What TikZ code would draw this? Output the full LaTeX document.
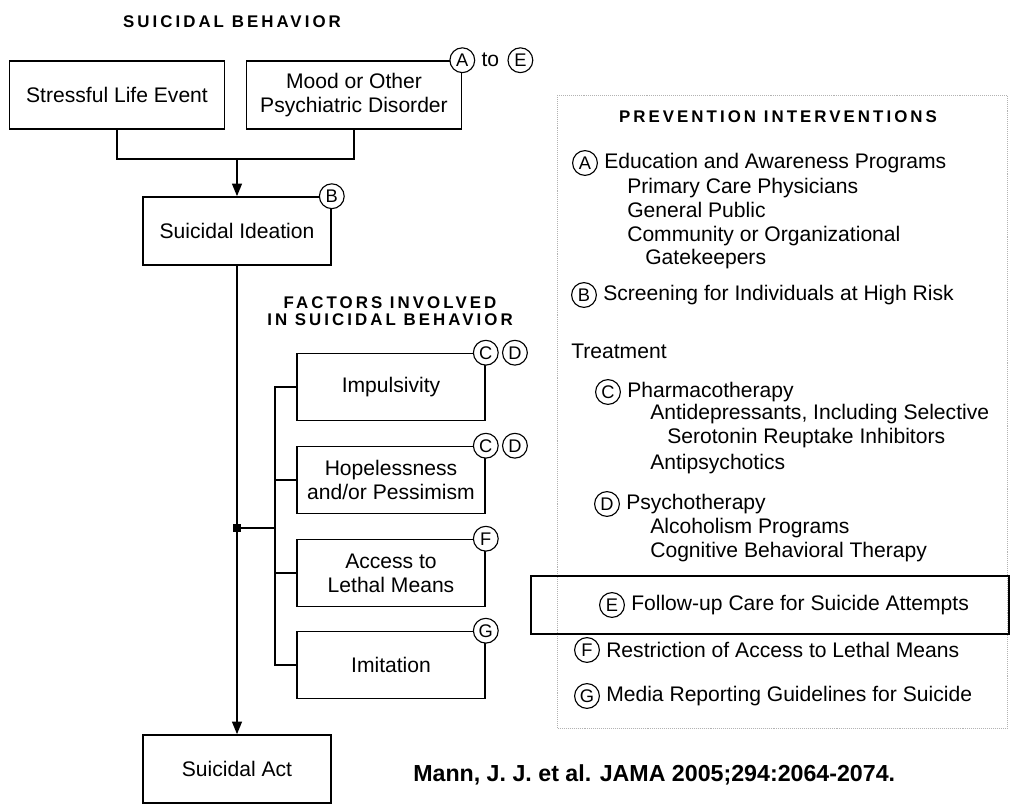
\documentclass[tikz,border=0pt]{standalone}
\usepackage{fontspec}
\setmainfont{Liberation Sans}
\newfontfamily\spacedfont[LetterSpace=18]{Liberation Sans}
\usetikzlibrary{positioning,arrows.meta}
\tikzset{
  box/.style={draw,line width=1.1pt,align=center,minimum height=1.7cm,
    font=\fontsize{15}{17}\selectfont},
  tag/.style={circle,draw,fill=white,line width=0.8pt,minimum size=0.62cm,
    inner sep=0pt,font=\fontsize{13}{13}\selectfont},
  item/.style={anchor=base west,inner sep=0pt,font=\fontsize{15}{17}\selectfont},
  head/.style={align=center,font=\fontsize{12}{12.5}\spacedfont\bfseries},
  link/.style={line width=1.3pt},
  arr/.style={link,-{Triangle[length=9pt,width=7pt]}}
}
\begin{document}
\begin{tikzpicture}[x=0.025cm,y=-0.025cm]
\useasboundingbox (0,0) rectangle (1010,810);
% left: causal chain
\node[head] (title) at (232,22) {SUICIDAL BEHAVIOR};
\node[box,minimum width=5.375cm] (life) at (117,95) {Stressful Life Event};
\node[box,minimum width=5.375cm] (mood) at (354,95) {Mood or Other\\Psychiatric Disorder};
\node[box,minimum width=4.7cm] (ideation) at (237,231) {Suicidal Ideation};
\node[box,minimum width=4.7cm] (act) at (237,769) {Suicidal Act};
\coordinate (join) at (237,159);
\draw[link] (life.south) |- (join) -| (mood.south);
\draw[arr] (join) -- (ideation.north);
\draw[arr] (ideation) -- (act);
% factors
\node[head] (factors) at (390,311) {FACTORS INVOLVED\\IN SUICIDAL BEHAVIOR};
\foreach \y/\name/\txt in {387/impulse/Impulsivity,480/hope/{Hopelessness\\and/or Pessimism},
  573/means/{Access to\\Lethal Means},665/imitate/Imitation}
{
\node[box,minimum width=4.7cm,minimum height=1.675cm] (\name) at (391,\y) {\txt};
}
\draw[link] (impulse.west) -- ++(-21,0) |- (imitate.west);
\draw[link] (hope.west) -- ++(-21,0);
\draw[link] (means.west) -- ++(-21,0);
\coordinate (bus) at (276,528);
\node[fill,inner sep=0pt,minimum size=5pt] (knot) at (237,528) {};
\draw[link] (bus) -- (knot);
% letters on the boxes
\node[tag] (tA) at (mood.north east) {A};
\node[right=0.15cm of tA,inner sep=0pt,font=\fontsize{15}{15}\selectfont] (to) {to};
\node[tag,right=0.2cm of to] (tE) {E};
\node[tag] (tB) at (ideation.north east) {B};
\node[tag] (tC1) at (impulse.north east) {C};
\node[tag,right=0.08cm of tC1] (tD1) {D};
\node[tag] (tC2) at (hope.north east) {C};
\node[tag,right=0.08cm of tC2] (tD2) {D};
\node[tag] (tF) at (means.north east) {F};
\node[tag] (tG) at (imitate.north east) {G};
% right: prevention interventions
\draw[gray!60,densely dotted] (557,95) rectangle (1007,728);
\node[head] (prev) at (778,117) {PREVENTION INTERVENTIONS};
\node[tag] (pA) at (585,163) {A};
\node[item,anchor=west,right=0.15cm of pA] (educ) {Education and Awareness Programs};
\foreach \x/\y/\name/\txt in {627/193/pcp/Primary Care Physicians,627/217/pub/General Public,
  627/241/comm/Community or Organizational,645/264/gate/Gatekeepers}
{
\node[item] (\name) at (\x,\y) {\txt};
}
\node[tag] (pB) at (584,295) {B};
\node[item,anchor=west,right=0.15cm of pB] (screen) {Screening for Individuals at High Risk};
\node[item] (treat) at (571,358) {Treatment};
\node[tag] (pC) at (608,392) {C};
\node[item,anchor=west,right=0.15cm of pC] (pharma) {Pharmacotherapy};
\foreach \x/\y/\name/\txt in {650/419/antidep/{Antidepressants, Including Selective},
  667/443/ssri/Serotonin Reuptake Inhibitors,650/469/antipsy/Antipsychotics}
{
\node[item] (\name) at (\x,\y) {\txt};
}
\node[tag] (pD) at (607,504) {D};
\node[item,anchor=west,right=0.15cm of pD] (psycho) {Psychotherapy};
\node[item] (alcohol) at (650,533) {Alcoholism Programs};
\node[item] (cbt) at (650,557) {Cognitive Behavioral Therapy};
\draw[line width=1.6pt] (531,576) rectangle (1009,634);
\node[tag] (pE) at (612,605) {E};
\node[item,anchor=west,right=0.15cm of pE] (follow) {Follow-up Care for Suicide Attempts};
\node[tag] (pF) at (587,650) {F};
\node[item,anchor=west,right=0.15cm of pF] (restrict) {Restriction of Access to Lethal Means};
\node[tag] (pG) at (587,696) {G};
\node[item,anchor=west,right=0.15cm of pG] (media) {Media Reporting Guidelines for Suicide};
% source
\node[anchor=base west,inner sep=0pt,font=\bfseries\fontsize{16.5}{18}\selectfont] (cite)
  at (413,781) {Mann, J. J. et al. JAMA 2005;294:2064-2074.};
\end{tikzpicture}
\end{document}
